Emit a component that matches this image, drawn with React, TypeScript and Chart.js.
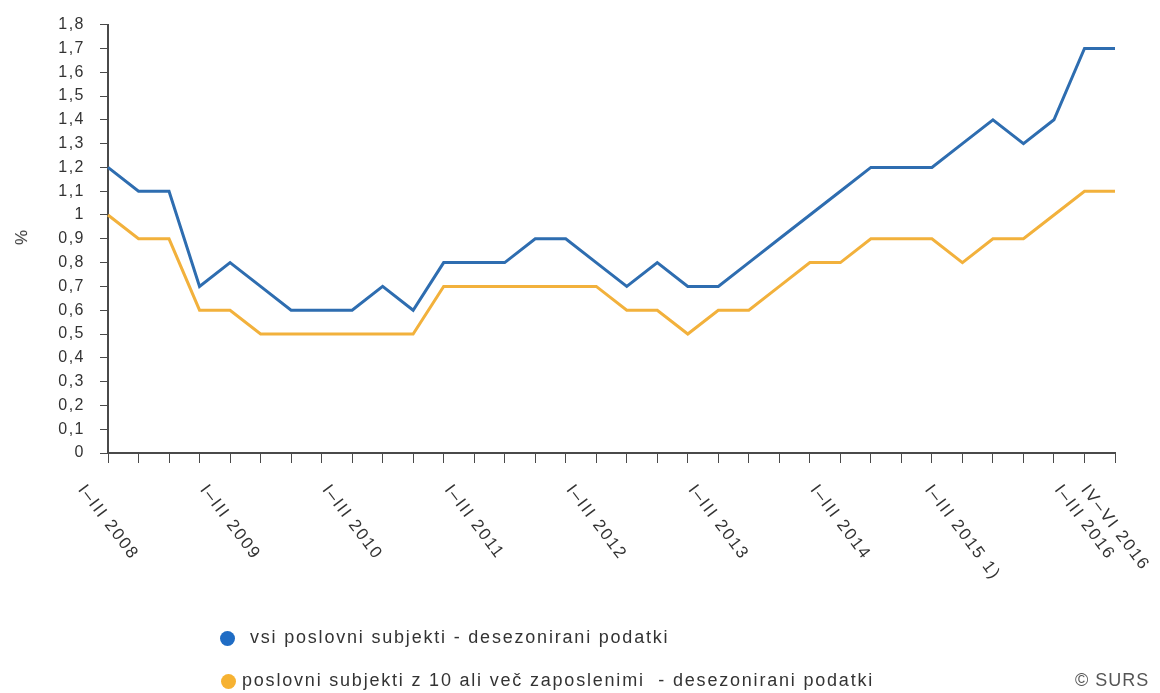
import React, { useEffect, useRef } from "react";
import { Chart, registerables } from "chart.js";

Chart.register(...registerables);

const YEARS = [2008, 2009, 2010, 2011, 2012, 2013, 2014, 2015, 2016];
const QUARTERS = ["I–III", "IV–VI", "VII–IX", "X–XII"];
const NOTE_2015 = " 1)";

// 2008 Q1 .. 2016 Q2
const CATEGORIES: string[] = [];
YEARS.forEach((y) => {
  QUARTERS.forEach((q, qi) => {
    if (y === 2016 && qi > 1) return;
    CATEGORIES.push(`${q} ${y}` + (y === 2015 && qi === 0 ? NOTE_2015 : ""));
  });
});

const SHOWN_TICKS = [0, 4, 8, 12, 16, 20, 24, 28, 32, 33];

const SERIES_ALL = [
  1.2, 1.1, 1.1, 0.7, 0.8, 0.7, 0.6, 0.6, 0.6, 0.7, 0.6, 0.8, 0.8, 0.8, 0.9, 0.9, 0.8,
  0.7, 0.8, 0.7, 0.7, 0.8, 0.9, 1.0, 1.1, 1.2, 1.2, 1.2, 1.3, 1.4, 1.3, 1.4, 1.7, 1.7,
];
const SERIES_10PLUS = [
  1.0, 0.9, 0.9, 0.6, 0.6, 0.5, 0.5, 0.5, 0.5, 0.5, 0.5, 0.7, 0.7, 0.7, 0.7, 0.7, 0.7,
  0.6, 0.6, 0.5, 0.6, 0.6, 0.7, 0.8, 0.8, 0.9, 0.9, 0.9, 0.8, 0.9, 0.9, 1.0, 1.1, 1.1,
];

const LABEL_ALL = "vsi poslovni subjekti - desezonirani podatki";
const LABEL_10PLUS = "poslovni subjekti z 10 ali več zaposlenimi  - desezonirani podatki";

const BLUE = "#2e6db0";
const ORANGE = "#f2b13c";
const BLUE_DOT = "#1f6cc4";
const ORANGE_DOT = "#f6b232";
const TEXT = "#333333";
const AXIS = "#4a4a4a";
const FONT = '"Liberation Sans", Arial, sans-serif';
const SPACING = "1.5px";
const LABEL_ANGLE = 53;

const fmt = (v: number) => String(Math.round(v * 10) / 10).replace(".", ",");

const xLabelPlugin = {
  id: "xLabels",
  beforeDraw(chart: any) {
    chart.ctx.letterSpacing = SPACING;
  },
  afterDraw(chart: any) {
    const { ctx } = chart;
    const x = chart.scales.x;
    ctx.save();
    ctx.letterSpacing = "1.8px";
    ctx.font = `17px ${FONT}`;
    ctx.fillStyle = TEXT;
    ctx.textAlign = "left";
    ctx.textBaseline = "middle";
    const th = (LABEL_ANGLE * Math.PI) / 180;
    SHOWN_TICKS.forEach((i) => {
      const text = CATEGORIES[i];
      const w = ctx.measureText(text).width;
      const tx = x.getPixelForValue(i);
      const sx = tx - (w * Math.cos(th)) / 2;
      const sy = x.top + 34;
      ctx.save();
      ctx.translate(sx, sy);
      ctx.rotate(th);
      ctx.fillText(text, 0, 0);
      ctx.restore();
    });
    ctx.restore();
  },
};

export default function App() {
  const ref = useRef<HTMLCanvasElement | null>(null);
  useEffect(() => {
    document.body.style.margin = "0";
    const chart = new Chart(ref.current!, {
      type: "line",
      data: {
        labels: CATEGORIES,
        datasets: [
          {
            label: LABEL_ALL,
            data: SERIES_ALL,
            borderColor: BLUE,
            backgroundColor: BLUE,
            borderWidth: 3,
            pointRadius: 0,
            tension: 0,
          },
          {
            label: LABEL_10PLUS,
            data: SERIES_10PLUS,
            borderColor: ORANGE,
            backgroundColor: ORANGE,
            borderWidth: 3,
            pointRadius: 0,
            tension: 0,
          },
        ],
      },
      options: {
        animation: false,
        responsive: false,
        layout: { padding: { top: 22, right: 45, bottom: 0, left: 0 } },
        plugins: { legend: { display: false }, tooltip: { enabled: false } },
        scales: {
          x: {
            offset: false,
            grid: { drawOnChartArea: false, drawTicks: true, tickLength: 10, color: AXIS, lineWidth: 1 },
            border: { display: true, color: AXIS, width: 2 },
            ticks: { display: false },
            afterFit: (s: any) => {
              s.height = 240;
            },
          },
          y: {
            min: 0,
            max: 1.8,
            ticks: {
              stepSize: 0.1,
              callback: (v: any) => fmt(Number(v)),
              font: { family: FONT, size: 16 },
              color: TEXT,
              padding: 15,
            },
            grid: { drawOnChartArea: false, drawTicks: true, tickLength: 8, color: AXIS, lineWidth: 1 },
            border: { display: true, color: AXIS, width: 2 },
            afterFit: (s: any) => {
              s.width = 108;
            },
          },
        },
      },
      plugins: [xLabelPlugin],
    });
    return () => chart.destroy();
  }, []);

  const txt: React.CSSProperties = {
    position: "absolute",
    fontFamily: FONT,
    fontSize: 18,
    color: TEXT,
    letterSpacing: "1.8px",
    whiteSpace: "pre",
    lineHeight: "20px",
  };
  const dot = (c: string, left: number, top: number): React.CSSProperties => ({
    position: "absolute",
    left: left - 7.5,
    top: top - 7.5,
    width: 15,
    height: 15,
    borderRadius: "50%",
    background: c,
  });

  return (
    <div style={{ position: "relative", width: 1160, height: 693, background: "#fff", overflow: "hidden" }}>
      <canvas ref={ref} width={1160} height={693} style={{ position: "absolute", left: 0, top: 0 }} />
      <div style={{ ...txt, fontSize: 17, letterSpacing: "1px", left: 14, top: 227, transform: "rotate(-90deg)" }}>%</div>
      <div style={dot(BLUE_DOT, 227, 638)} />
      <div style={{ ...txt, left: 250, top: 627 }}>{LABEL_ALL}</div>
      <div style={dot(ORANGE_DOT, 228, 681)} />
      <div style={{ ...txt, left: 242, top: 670 }}>{LABEL_10PLUS}</div>
      <div style={{ ...txt, left: 1075, top: 670, color: "#555", letterSpacing: "1px" }}>© SURS</div>
    </div>
  );
}
